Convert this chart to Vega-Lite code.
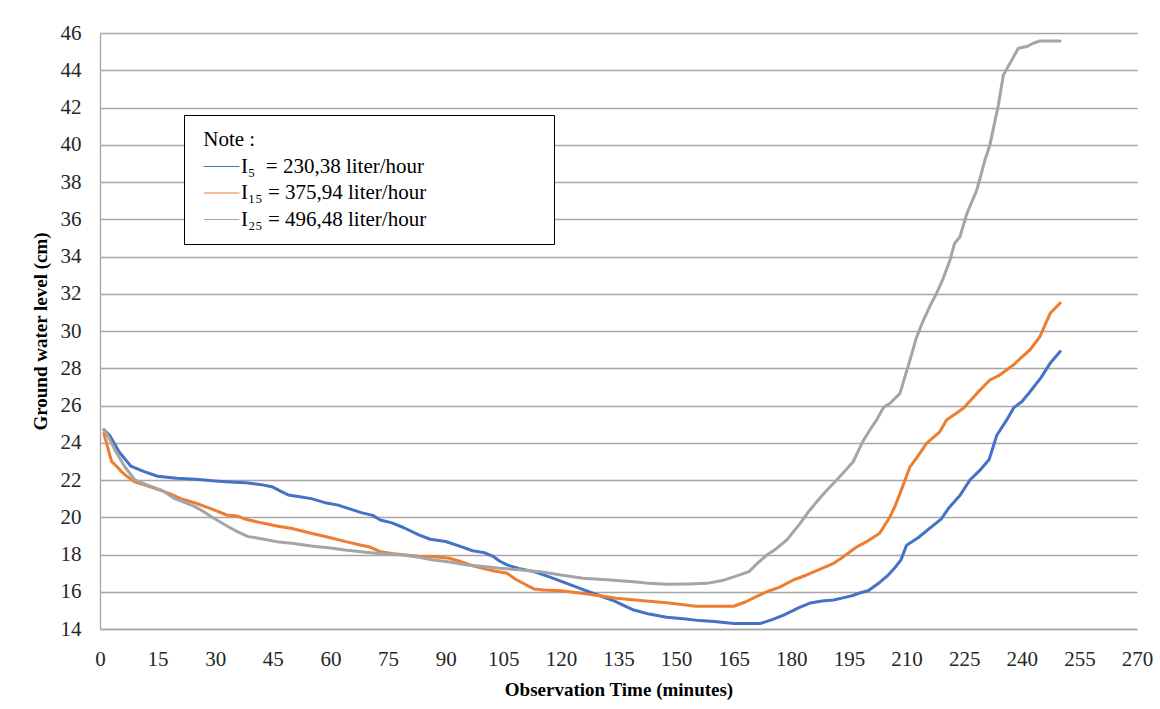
{
  "$schema": "https://vega.github.io/schema/vega-lite/v6.json",
  "width": 1037,
  "height": 596,
  "autosize": "none",
  "padding": {"left": 100, "top": 33, "right": 23, "bottom": 80},
  "background": "white",
  "config": {
    "view": {"stroke": null},
    "font": "Liberation Serif, Times New Roman, serif"
  },
  "data": {"values": [
{"s":"I5","t":1,"v":24.7},{"s":"I5","t":2.5,"v":24.4},{"s":"I5","t":5,"v":23.5},{"s":"I5","t":8,"v":22.75},{"s":"I5","t":11.5,"v":22.45},{"s":"I5","t":15,"v":22.2},{"s":"I5","t":20,"v":22.1},{"s":"I5","t":25,"v":22.04},{"s":"I5","t":30,"v":21.95},{"s":"I5","t":35,"v":21.88},{"s":"I5","t":38,"v":21.85},{"s":"I5","t":42,"v":21.75},{"s":"I5","t":45,"v":21.62},{"s":"I5","t":47,"v":21.4},{"s":"I5","t":49,"v":21.2},{"s":"I5","t":52,"v":21.1},{"s":"I5","t":55,"v":21.0},{"s":"I5","t":59,"v":20.76},{"s":"I5","t":62,"v":20.65},{"s":"I5","t":65,"v":20.45},{"s":"I5","t":68,"v":20.25},{"s":"I5","t":71,"v":20.1},{"s":"I5","t":73,"v":19.85},{"s":"I5","t":76,"v":19.7},{"s":"I5","t":79,"v":19.45},{"s":"I5","t":83,"v":19.05},{"s":"I5","t":86,"v":18.82},{"s":"I5","t":90,"v":18.7},{"s":"I5","t":94,"v":18.42},{"s":"I5","t":97,"v":18.2},{"s":"I5","t":100,"v":18.1},{"s":"I5","t":102.5,"v":17.88},{"s":"I5","t":104,"v":17.65},{"s":"I5","t":106,"v":17.44},{"s":"I5","t":109,"v":17.25},{"s":"I5","t":113,"v":17.08},{"s":"I5","t":117,"v":16.8},{"s":"I5","t":121.5,"v":16.45},{"s":"I5","t":126,"v":16.1},{"s":"I5","t":130,"v":15.8},{"s":"I5","t":134,"v":15.5},{"s":"I5","t":137,"v":15.2},{"s":"I5","t":139,"v":15.02},{"s":"I5","t":143,"v":14.8},{"s":"I5","t":147.5,"v":14.63},{"s":"I5","t":152,"v":14.55},{"s":"I5","t":156,"v":14.45},{"s":"I5","t":160,"v":14.4},{"s":"I5","t":165,"v":14.3},{"s":"I5","t":172,"v":14.3},{"s":"I5","t":175,"v":14.5},{"s":"I5","t":178,"v":14.75},{"s":"I5","t":182,"v":15.15},{"s":"I5","t":185,"v":15.4},{"s":"I5","t":188,"v":15.5},{"s":"I5","t":191,"v":15.56},{"s":"I5","t":194,"v":15.7},{"s":"I5","t":196,"v":15.8},{"s":"I5","t":198,"v":15.95},{"s":"I5","t":200,"v":16.05},{"s":"I5","t":203,"v":16.5},{"s":"I5","t":205,"v":16.85},{"s":"I5","t":207,"v":17.3},{"s":"I5","t":208.5,"v":17.7},{"s":"I5","t":210,"v":18.5},{"s":"I5","t":213,"v":18.9},{"s":"I5","t":216,"v":19.4},{"s":"I5","t":219,"v":19.9},{"s":"I5","t":221,"v":20.5},{"s":"I5","t":224,"v":21.2},{"s":"I5","t":226.5,"v":22.0},{"s":"I5","t":229,"v":22.5},{"s":"I5","t":231.5,"v":23.1},{"s":"I5","t":233.5,"v":24.4},{"s":"I5","t":236,"v":25.2},{"s":"I5","t":238,"v":25.9},{"s":"I5","t":240,"v":26.2},{"s":"I5","t":242,"v":26.7},{"s":"I5","t":245,"v":27.5},{"s":"I5","t":247.5,"v":28.3},{"s":"I5","t":250,"v":28.9},
{"s":"I15","t":1,"v":24.5},{"s":"I15","t":2.2,"v":23.6},{"s":"I15","t":3,"v":23.0},{"s":"I15","t":4.5,"v":22.7},{"s":"I15","t":5.6,"v":22.45},{"s":"I15","t":7,"v":22.2},{"s":"I15","t":9,"v":21.9},{"s":"I15","t":11.7,"v":21.73},{"s":"I15","t":15,"v":21.5},{"s":"I15","t":18,"v":21.28},{"s":"I15","t":21,"v":21.0},{"s":"I15","t":25,"v":20.75},{"s":"I15","t":29,"v":20.45},{"s":"I15","t":33,"v":20.12},{"s":"I15","t":36,"v":20.05},{"s":"I15","t":38,"v":19.89},{"s":"I15","t":42,"v":19.7},{"s":"I15","t":46,"v":19.53},{"s":"I15","t":50,"v":19.4},{"s":"I15","t":55,"v":19.14},{"s":"I15","t":60,"v":18.9},{"s":"I15","t":64,"v":18.69},{"s":"I15","t":68,"v":18.5},{"s":"I15","t":70,"v":18.42},{"s":"I15","t":73,"v":18.15},{"s":"I15","t":76,"v":18.05},{"s":"I15","t":79.5,"v":17.97},{"s":"I15","t":83,"v":17.9},{"s":"I15","t":87,"v":17.88},{"s":"I15","t":91,"v":17.8},{"s":"I15","t":94,"v":17.61},{"s":"I15","t":97,"v":17.4},{"s":"I15","t":100.7,"v":17.2},{"s":"I15","t":103,"v":17.1},{"s":"I15","t":106,"v":16.99},{"s":"I15","t":108,"v":16.7},{"s":"I15","t":111,"v":16.36},{"s":"I15","t":113,"v":16.15},{"s":"I15","t":115.5,"v":16.09},{"s":"I15","t":120,"v":16.05},{"s":"I15","t":126,"v":15.9},{"s":"I15","t":130,"v":15.78},{"s":"I15","t":134.5,"v":15.65},{"s":"I15","t":140,"v":15.55},{"s":"I15","t":147.5,"v":15.41},{"s":"I15","t":152,"v":15.3},{"s":"I15","t":155,"v":15.22},{"s":"I15","t":165,"v":15.22},{"s":"I15","t":168,"v":15.45},{"s":"I15","t":171,"v":15.75},{"s":"I15","t":173.6,"v":16.0},{"s":"I15","t":177,"v":16.25},{"s":"I15","t":180.5,"v":16.63},{"s":"I15","t":184,"v":16.9},{"s":"I15","t":186.6,"v":17.13},{"s":"I15","t":191,"v":17.53},{"s":"I15","t":193,"v":17.8},{"s":"I15","t":195.3,"v":18.15},{"s":"I15","t":197,"v":18.4},{"s":"I15","t":199.6,"v":18.69},{"s":"I15","t":203,"v":19.14},{"s":"I15","t":205.7,"v":20.03},{"s":"I15","t":207,"v":20.6},{"s":"I15","t":208.3,"v":21.28},{"s":"I15","t":210.9,"v":22.71},{"s":"I15","t":213,"v":23.3},{"s":"I15","t":215.2,"v":23.97},{"s":"I15","t":218.7,"v":24.6},{"s":"I15","t":220.4,"v":25.22},{"s":"I15","t":224.8,"v":25.85},{"s":"I15","t":228.3,"v":26.65},{"s":"I15","t":231.7,"v":27.37},{"s":"I15","t":234,"v":27.6},{"s":"I15","t":237.8,"v":28.17},{"s":"I15","t":240,"v":28.6},{"s":"I15","t":242.1,"v":28.98},{"s":"I15","t":244.7,"v":29.69},{"s":"I15","t":246,"v":30.3},{"s":"I15","t":247.4,"v":30.95},{"s":"I15","t":250,"v":31.5},
{"s":"I25","t":1,"v":24.7},{"s":"I25","t":2,"v":24.4},{"s":"I25","t":3.9,"v":23.6},{"s":"I25","t":6.5,"v":22.7},{"s":"I25","t":9.1,"v":22.0},{"s":"I25","t":12,"v":21.75},{"s":"I25","t":16,"v":21.46},{"s":"I25","t":19.5,"v":21.0},{"s":"I25","t":22,"v":20.8},{"s":"I25","t":24.7,"v":20.57},{"s":"I25","t":27,"v":20.3},{"s":"I25","t":29,"v":20.03},{"s":"I25","t":33.4,"v":19.49},{"s":"I25","t":36,"v":19.2},{"s":"I25","t":38.6,"v":18.96},{"s":"I25","t":42,"v":18.85},{"s":"I25","t":46,"v":18.69},{"s":"I25","t":50,"v":18.6},{"s":"I25","t":55,"v":18.46},{"s":"I25","t":60,"v":18.35},{"s":"I25","t":63.8,"v":18.24},{"s":"I25","t":68,"v":18.15},{"s":"I25","t":72.5,"v":18.06},{"s":"I25","t":79,"v":17.97},{"s":"I25","t":83,"v":17.85},{"s":"I25","t":86.8,"v":17.7},{"s":"I25","t":91,"v":17.6},{"s":"I25","t":95.5,"v":17.44},{"s":"I25","t":100,"v":17.35},{"s":"I25","t":104,"v":17.26},{"s":"I25","t":109,"v":17.18},{"s":"I25","t":114.6,"v":17.08},{"s":"I25","t":120,"v":16.9},{"s":"I25","t":125.8,"v":16.72},{"s":"I25","t":132,"v":16.65},{"s":"I25","t":138.9,"v":16.54},{"s":"I25","t":143,"v":16.45},{"s":"I25","t":147.6,"v":16.4},{"s":"I25","t":153,"v":16.42},{"s":"I25","t":158,"v":16.45},{"s":"I25","t":162,"v":16.6},{"s":"I25","t":165,"v":16.8},{"s":"I25","t":169,"v":17.08},{"s":"I25","t":171,"v":17.5},{"s":"I25","t":173.6,"v":17.97},{"s":"I25","t":176,"v":18.3},{"s":"I25","t":178.8,"v":18.78},{"s":"I25","t":182.3,"v":19.67},{"s":"I25","t":184.5,"v":20.3},{"s":"I25","t":186.6,"v":20.83},{"s":"I25","t":189,"v":21.4},{"s":"I25","t":191.8,"v":22.0},{"s":"I25","t":194,"v":22.5},{"s":"I25","t":196.1,"v":22.98},{"s":"I25","t":198.7,"v":24.1},{"s":"I25","t":200.5,"v":24.7},{"s":"I25","t":202.2,"v":25.22},{"s":"I25","t":204,"v":25.9},{"s":"I25","t":205.7,"v":26.12},{"s":"I25","t":208.3,"v":26.65},{"s":"I25","t":209.5,"v":27.5},{"s":"I25","t":210.9,"v":28.44},{"s":"I25","t":212.5,"v":29.6},{"s":"I25","t":214.4,"v":30.59},{"s":"I25","t":216,"v":31.3},{"s":"I25","t":217.8,"v":32.02},{"s":"I25","t":219.5,"v":32.8},{"s":"I25","t":221.3,"v":33.8},{"s":"I25","t":222.5,"v":34.7},{"s":"I25","t":223.9,"v":35.06},{"s":"I25","t":225.7,"v":36.3},{"s":"I25","t":228.3,"v":37.57},{"s":"I25","t":230.4,"v":39.18},{"s":"I25","t":231.7,"v":39.99},{"s":"I25","t":233.9,"v":42.13},{"s":"I25","t":235.2,"v":43.74},{"s":"I25","t":236.9,"v":44.37},{"s":"I25","t":239.1,"v":45.18},{"s":"I25","t":241.3,"v":45.27},{"s":"I25","t":243,"v":45.45},{"s":"I25","t":244.7,"v":45.57},{"s":"I25","t":250,"v":45.57}
  ]},
  "mark": {"type": "line", "strokeWidth": 3, "strokeJoin": "round", "strokeCap": "round"},
  "encoding": {
    "x": {
      "field": "t", "type": "quantitative",
      "scale": {"domain": [0, 270], "nice": false, "zero": false},
      "axis": {
        "values": [0,15,30,45,60,75,90,105,120,135,150,165,180,195,210,225,240,255,270],
        "grid": false, "ticks": false, "tickSize": 0,
        "domainColor": "#a6a6a6", "domainWidth": 1.3,
        "labelFont": "Liberation Serif", "labelFontSize": 21, "labelColor": "#262626",
        "labelPadding": 19, "labelFlush": false,
        "title": "Observation Time (minutes)",
        "titleFont": "Liberation Serif", "titleFontSize": 19, "titleFontWeight": "bold", "titleColor": "#000000",
        "titlePadding": 11
      }
    },
    "y": {
      "field": "v", "type": "quantitative",
      "scale": {"domain": [14, 46], "nice": false, "zero": false},
      "axis": {
        "values": [14,16,18,20,22,24,26,28,30,32,34,36,38,40,42,44,46],
        "grid": true, "gridColor": "#a6a6a6", "gridWidth": 1.3,
        "ticks": false, "tickSize": 0,
        "domainColor": "#a6a6a6", "domainWidth": 1.3,
        "labelFont": "Liberation Serif", "labelFontSize": 21, "labelColor": "#262626",
        "labelPadding": 19,
        "title": "Ground water level (cm)",
        "titleFont": "Liberation Serif", "titleFontSize": 19, "titleFontWeight": "bold", "titleColor": "#000000",
        "titlePadding": 10
      }
    },
    "color": {
      "field": "s", "type": "nominal",
      "scale": {"domain": ["I5", "I15", "I25"], "range": ["#4472C4", "#ED7D31", "#A5A5A5"]},
      "legend": {
        "orient": "none", "legendX": 84, "legendY": 82,
        "title": "\u200b\u00a0Note :", "titleFont": "Liberation Serif", "titleFontSize": 21, "titleFontWeight": "normal", "titleColor": "#000000",
        "titlePadding": 5,
        "labelFont": "Liberation Serif", "labelFontSize": 21, "labelColor": "#000000", "labelLimit": 600, "labelOffset": 20,
        "labelExpr": "datum.value === 'I5' ? 'I₅\u00a0 = 230,38 liter/hour\u00a0\u00a0\u00a0\u00a0\u00a0\u00a0\u00a0\u00a0\u00a0\u00a0\u00a0\u00a0\u00a0\u00a0\u00a0\u00a0\u00a0\u00a0\u00a0\u00a0\u00a0\u00a0\u200b' : datum.value === 'I15' ? 'I₁₅ = 375,94 liter/hour' : 'I₂₅ = 496,48 liter/hour'",
        "symbolType": "M-0.55,0H2.85", "symbolSize": 441, "symbolStrokeWidth": 1.2,
        "rowPadding": 4.5,
        "padding": 14,
        "strokeColor": "#000000", "fillColor": "#ffffff"
      }
    }
  }
}
